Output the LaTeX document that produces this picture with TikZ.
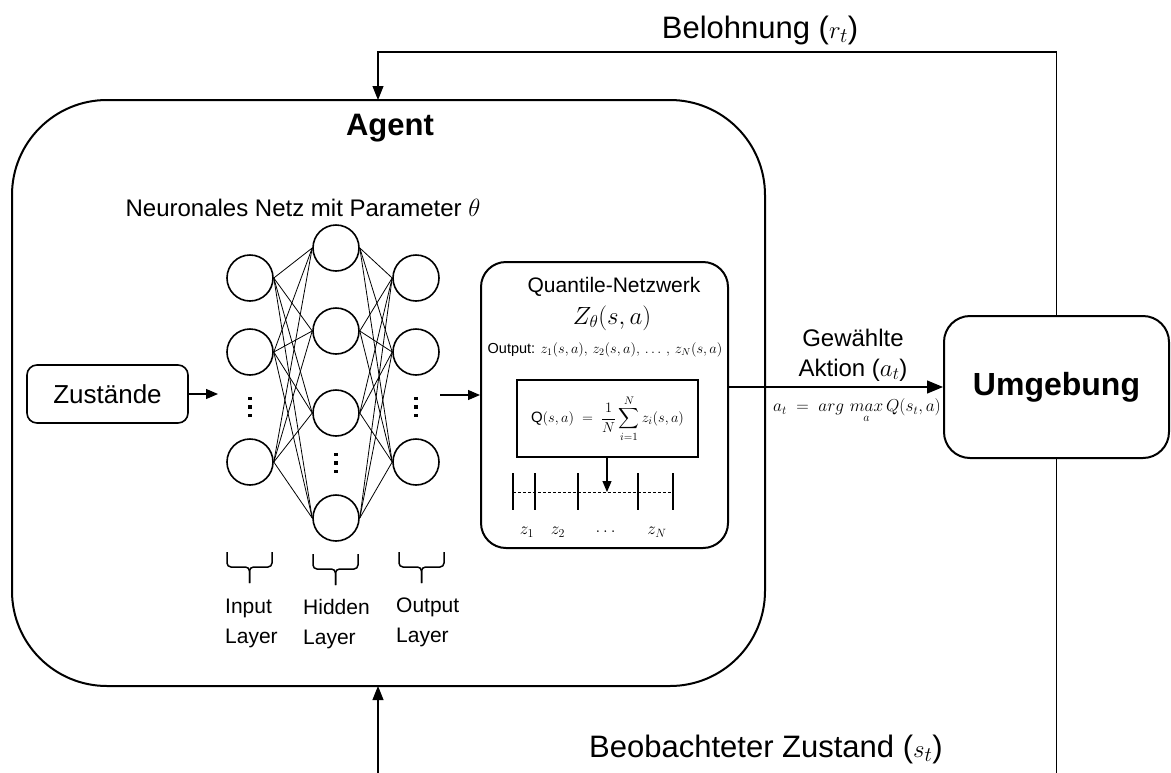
\documentclass[tikz,border=0pt]{standalone}
\usepackage{fontspec}
\setmainfont{Liberation Sans}
\usepackage{amsmath}
\usetikzlibrary{arrows.meta}

\begin{document}
\begin{tikzpicture}[x=1pt,y=-1pt,
  every node/.style={inner sep=0pt},
  txt/.style={font=\fontsize{24}{28}\selectfont},
  big/.style={font=\fontsize{31}{36}\selectfont},
  small/.style={font=\fontsize{21}{30}\selectfont},
  bigbox/.style={draw, line width=2pt, rounded corners=95pt},
  envbox/.style={draw, line width=2pt, rounded corners=26pt, fill=white},
  qbox/.style={draw, line width=2pt, rounded corners=25pt},
  sbox/.style={draw, line width=1.6pt, rounded corners=10pt},
  neuron/.style={draw, circle, line width=1.6pt, minimum size=46pt},
  link/.style={line width=0.8pt},
  loop/.style={line width=1.1pt, -{Triangle[length=14pt,width=11pt]}},
  arr/.style={line width=1.3pt, -{Triangle[length=16pt,width=13pt]}},
  thinarr/.style={line width=1.2pt, -{Triangle[length=12pt,width=10pt]}},
  brc/.style={line width=1.5pt, rounded corners=4pt},
  tick/.style={line width=1.6pt},
]
\useasboundingbox (0,0) rectangle (1171,772);
\clip (0,0) rectangle (1171,772);

% main boxes
\node[bigbox, minimum width=753pt, minimum height=586pt] (agent) at (388.5,393) {};
\node[envbox, minimum width=225pt, minimum height=142pt] (umg) at (1056.5,387)
  {\fontsize{32}{36}\selectfont\bfseries Umgebung};
\node[font=\fontsize{31}{34}\selectfont\bfseries] (agenttitle) at (390,128) {Agent};
\node[txt] (nntitle) at (303,208) {Neuronales Netz mit Parameter $\theta$};

% feedback loop
\coordinate (rin) at (378,100);
\coordinate (sin) at (378,686);
\draw[loop] (umg.north) |- (378,52) -- (rin);
\draw[loop] (umg.south) -- (1056.5,800) -| (sin);
\node[big] (rlabel) at (760,30) {Belohnung ($r_t$)};
\node[big] (slabel) at (766,749) {Beobachteter Zustand ($s_t$)};

% state input
\node[sbox, minimum width=161pt, minimum height=58pt, font=\fontsize{26}{30}\selectfont] (zust) at (107.5,394) {Zustände};
\coordinate (netin) at (218,394);
\draw[thinarr] (zust.east) -- (netin);

% neurons
\foreach \i/\y in {1/278,2/352,3/462} {
  \node[neuron] (in\i) at (250,\y) {};
  \node[neuron] (out\i) at (416,\y) {};
}
\foreach \j/\y in {1/248,2/331,3/413,4/518}
  \node[neuron] (hid\j) at (336,\y) {};
\foreach \i in {1,2,3} \foreach \j in {1,2,3,4} {
  \draw[link] (in\i.east) -- (hid\j.west);
  \draw[link] (hid\j.east) -- (out\i.west);
}

% ellipsis dots
\node[minimum width=4pt, minimum height=22pt] (idots) at (250,407) {};
\node[minimum width=4pt, minimum height=22pt] (hdots) at (336,463) {};
\node[minimum width=4pt, minimum height=22pt] (odots) at (416,407) {};
\foreach \n in {idots,hdots,odots}
  \foreach \d in {-8.5,0,8.5}
    \fill ([yshift=\d pt]\n.center) ++(-1.8,-1.8) rectangle ++(3.6,3.6);

% layer braces
\foreach \a/\b/\t in {227/272/552, 313/358/554, 399/444/552} {
  \pgfmathsetmacro{\c}{(\a+\b)/2}
  \pgfmathsetmacro{\m}{\t+15}
  \pgfmathsetmacro{\e}{\t+31}
  \draw[brc] (\a,\t) -- (\a,\m) -- (\c,\m) -- (\c,\e);
  \draw[brc] (\b,\t) -- (\b,\m) -- (\c,\m) -- (\c,\e);
}
\node[small, anchor=north west, align=left] (linput) at (225,599) {Input\\Layer};
\node[small, anchor=north west, align=left] (lhidden) at (303,599) {Hidden\\Layer};
\node[small, anchor=north west, align=left] (loutput) at (396,598) {Output\\Layer};

% quantile network
\node[qbox, minimum width=247pt, minimum height=286pt] (quant) at (604.5,405) {};
\coordinate (netout) at (440,395);
\draw[thinarr] (netout) -- (quant.west |- netout);
\node[font=\fontsize{21}{24}\selectfont] (qtitle) at (614,287) {Quantile-Netzwerk};
\node[font=\fontsize{23}{26}\selectfont] (qz) at (612,318) {$Z_\theta(s,a)$};
\node[font=\fontsize{14.5}{17}\selectfont] (qout) at (605,350)
  {Output: $z_1(s,a),\, z_2(s,a),\, \dots\,,\, z_N(s,a)$};
\node[draw, line width=1.5pt, minimum width=181pt, minimum height=77pt,
  font=\fontsize{15}{18}\selectfont] (qmean) at (607.5,418.5)
  {$\mathrm{Q}(s,a)\;=\;\dfrac{1}{N}\displaystyle\sum_{i=1}^{N} z_i(s,a)$};

% quantile axis
\coordinate (axl) at (513,492);
\coordinate (axr) at (673,492);
\draw[line width=0.8pt, dash pattern=on 3pt off 2pt] (axl) -- (axr);
\foreach \x in {513,535,578,638,673}
  \draw[tick] (\x,473) -- (\x,510);
\coordinate (axm) at (607,492);
\draw[line width=1.2pt, -{Triangle[length=11pt,width=9pt]}] (qmean.south -| axm) -- (axm);
\foreach \x/\l in {527/z_1, 558/z_2, 607/\dots, 657/z_N}
  \node[font=\fontsize{18}{20}\selectfont] at (\x,532) {$\l$};

% action
\draw[arr] (quant.east |- umg.west) -- (umg.west);
\node[font=\fontsize{24}{30}\selectfont, align=center] (alabel) at (853,355) {Gewählte\\Aktion ($a_t$)};
\node[font=\fontsize{16.5}{18}\selectfont] (aform) at (857,411)
  {$a_t\;=\;arg\,\mathop{max}\limits_{a} Q(s_t,a)$};
\end{tikzpicture}
\end{document}
